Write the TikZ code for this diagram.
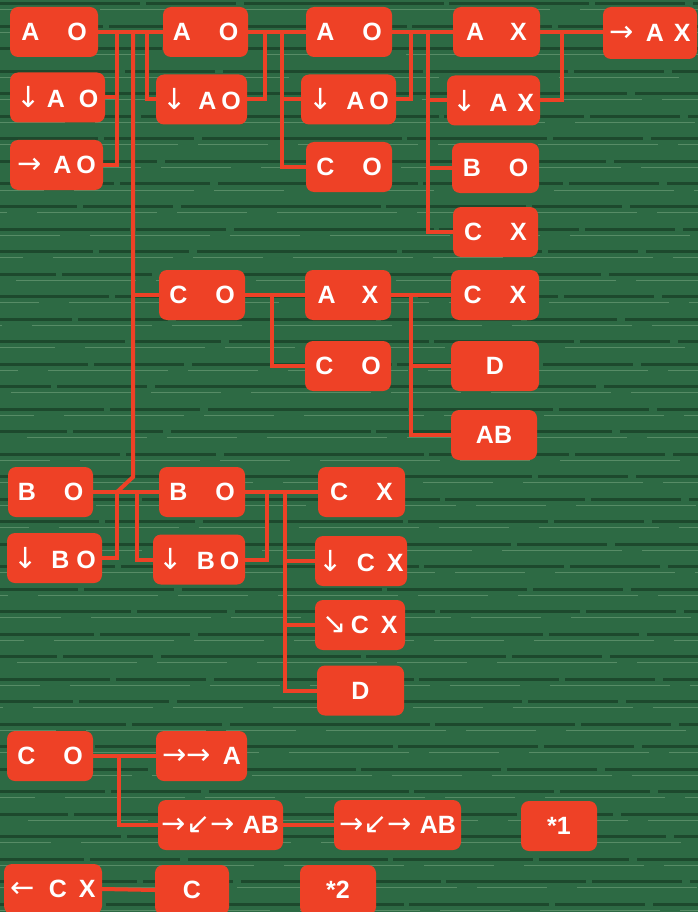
\documentclass[tikz,border=0pt]{standalone}
\usepackage{fontspec}
\setmainfont{Liberation Sans}
\newfontfamily\arrfont{DejaVu Sans}
\newcommand{\myarr}[1]{{\arrfont\mdseries\fontsize{29}{29}\selectfont #1}}
\definecolor{boxred}{HTML}{EE4126}
\definecolor{bggreen}{HTML}{2D6A44}
\definecolor{bgdark}{HTML}{1A4128}
\definecolor{bglight}{HTML}{74A37E}
\begin{document}
\begin{tikzpicture}[x=1pt,y=-1pt,
  box/.style={fill=boxred, rounded corners=8pt, text=white, minimum height=50pt, inner sep=0pt, font=\fontsize{25}{27}\selectfont\bfseries},
  link/.style={draw=boxred, line width=4pt}]
\useasboundingbox (0,0) rectangle (698,912);
\begin{scope}
\clip (0,0) rectangle (698,912);
% background
\fill[bggreen] (0,0) rectangle (698,912);
\foreach \i in {0,...,40} {
  \pgfmathsetmacro\yy{\i*22.5+4}
  \pgfmathsetmacro\ph{mod(\i*37,90)}
  \draw[bgdark, line width=3pt, opacity=.8, dash pattern=on 140pt off 6pt on 90pt off 8pt on 200pt off 5pt, dash phase=\ph pt] (0,\yy) -- (698,\yy);
  \draw[bglight, line width=1pt, opacity=.6, dash pattern=on 70pt off 30pt on 120pt off 20pt, dash phase=\ph pt] (0,\yy+6) -- (698,\yy+6);
}
% top block
\node[box, minimum width=88] (a1) at (54,32) {A\hspace{28pt}O};
\node[box, minimum width=95] (a1d) at (57.5,97.5) {\myarr{↓}\hspace{6pt}A\hspace{14pt}O};
\node[box, minimum width=93] (a1r) at (56.5,165) {\myarr{→}\hspace{12pt}A\hspace{5pt}O};
\node[box, minimum width=85] (a2) at (205.5,32) {A\hspace{28pt}O};
\node[box, minimum width=91] (a2d) at (201.5,99.5) {\myarr{↓}\hspace{12pt}A\hspace{5pt}O};
\node[box, minimum width=86] (a3) at (349,32) {A\hspace{28pt}O};
\node[box, minimum width=95] (a3d) at (348.5,99.5) {\myarr{↓}\hspace{14pt}A\hspace{5pt}O};
\node[box, minimum width=86] (c3) at (349,167) {C\hspace{28pt}O};
\node[box, minimum width=87] (ax4) at (496.5,32) {A\hspace{26pt}X};
\node[box, minimum width=93] (ax4d) at (493.5,100.5) {\myarr{↓}\hspace{12pt}A\hspace{10pt}X};
\node[box, minimum width=87] (bo4) at (495.5,168) {B\hspace{28pt}O};
\node[box, minimum width=85] (cx4) at (495.5,232) {C\hspace{28pt}X};
\node[box, minimum width=94, minimum height=52] (ax5) at (650,33) {\myarr{→}\hspace{12pt}A\hspace{10pt}X};
% middle block
\node[box, minimum width=86] (co2) at (202,295) {C\hspace{28pt}O};
\node[box, minimum width=86] (ax3) at (348,295) {A\hspace{26pt}X};
\node[box, minimum width=86] (co3) at (348,366) {C\hspace{28pt}O};
\node[box, minimum width=88] (cx4b) at (495,295) {C\hspace{28pt}X};
\node[box, minimum width=88] (d4) at (495,366) {D};
\node[box, minimum width=86] (ab4) at (494,435) {AB};
% B block
\node[box, minimum width=85] (bo1) at (50.5,492) {B\hspace{28pt}O};
\node[box, minimum width=95] (bo1d) at (54.5,558) {\myarr{↓}\hspace{14pt}B\hspace{7pt}O};
\node[box, minimum width=86] (bo2) at (202,492) {B\hspace{28pt}O};
\node[box, minimum width=92] (bo2d) at (199,559.5) {\myarr{↓}\hspace{14pt}B\hspace{5pt}O};
\node[box, minimum width=87] (cx3) at (361.5,492) {C\hspace{28pt}X};
\node[box, minimum width=92] (cx3d) at (361,561) {\myarr{↓}\hspace{14pt}C\hspace{12pt}X};
\node[box, minimum width=90] (cx3se) at (360,625) {\myarr{↘}\hspace{4pt}C\hspace{12pt}X};
\node[box, minimum width=87] (d3) at (360.5,690.5) {D};
% bottom block
\node[box, minimum width=86] (co0) at (50,756) {C\hspace{28pt}O};
\node[box, minimum width=91] (rra) at (201.5,756) {\myarr{→→}\hspace{12pt}A};
\node[box, minimum width=125] (ab1) at (220.5,825) {\myarr{→↙→}\hspace{8pt}AB};
\node[box, minimum width=127] (ab2) at (397.5,825) {\myarr{→↙→}\hspace{8pt}AB};
\node[box, minimum width=76] (s1) at (559,826) {*1};
\node[box, minimum width=98] (lcx) at (53,889) {\myarr{←}\hspace{14pt}C\hspace{12pt}X};
\node[box, minimum width=74] (cc) at (192,890) {C};
\node[box, minimum width=76] (s2) at (338,890) {*2};
% junctions
\coordinate (j1) at (117,32);
\coordinate (t0) at (133,32);
\coordinate (t1) at (133,477);
\coordinate (j2) at (147,32);
\coordinate (j3) at (265,32);
\coordinate (j4) at (282,32);
\coordinate (j5) at (411,32);
\coordinate (j6) at (428,32);
\coordinate (j7) at (562,32);
\coordinate (j8) at (272,295);
\coordinate (j9) at (411,295);
\coordinate (j10) at (117,492);
\coordinate (j11) at (137,492);
\coordinate (j12) at (267,492);
\coordinate (j13) at (285,492);
\coordinate (j14) at (119,756);
% connectors top
\draw[link] (a1.east) -- (a2.west);
\draw[link] (j1) |- (a1r.east);
\draw[link] (a1d.east) -- (a1d.east -| j1);
\draw[link] (t0) -- (t1) -- (j10);
\draw[link] (j2) |- (a2d.west);
\draw[link] (a2.east) -- (a3.west);
\draw[link] (j3) |- (a2d.east);
\draw[link] (j4) |- (c3.west);
\draw[link] (a3d.west) -- (a3d.west -| j4);
\draw[link] (a3.east) -- (ax4.west);
\draw[link] (j5) |- (a3d.east);
\draw[link] (j6) |- (cx4.west);
\draw[link] (ax4d.west) -- (ax4d.west -| j6);
\draw[link] (bo4.west) -- (bo4.west -| j6);
\draw[link] (ax4.east) -- (ax4.east -| ax5.west);
\draw[link] (j7) |- (ax4d.east);
% connectors middle
\draw[link] (t0 |- co2.west) -- (co2.west);
\draw[link] (co2.east) -- (ax3.west);
\draw[link] (j8) |- (co3.west);
\draw[link] (ax3.east) -- (cx4b.west);
\draw[link] (j9) |- (ab4.west);
\draw[link] (d4.west) -- (d4.west -| j9);
% connectors B block
\draw[link] (bo1.east) -- (bo2.west);
\draw[link] (j10) |- (bo1d.east);
\draw[link] (j11) |- (bo2d.west);
\draw[link] (bo2.east) -- (cx3.west);
\draw[link] (j12) |- (bo2d.east);
\draw[link] (j13) |- (d3.west);
\draw[link] (cx3d.west) -- (cx3d.west -| j13);
\draw[link] (cx3se.west) -- (cx3se.west -| j13);
% connectors bottom
\draw[link] (co0.east) -- (rra.west);
\draw[link] (j14) |- (ab1.west);
\draw[link] (ab1.east) -- (ab2.west);
\draw[link] (lcx.east) -- (cc.west);
\end{scope}
\end{tikzpicture}
\end{document}
